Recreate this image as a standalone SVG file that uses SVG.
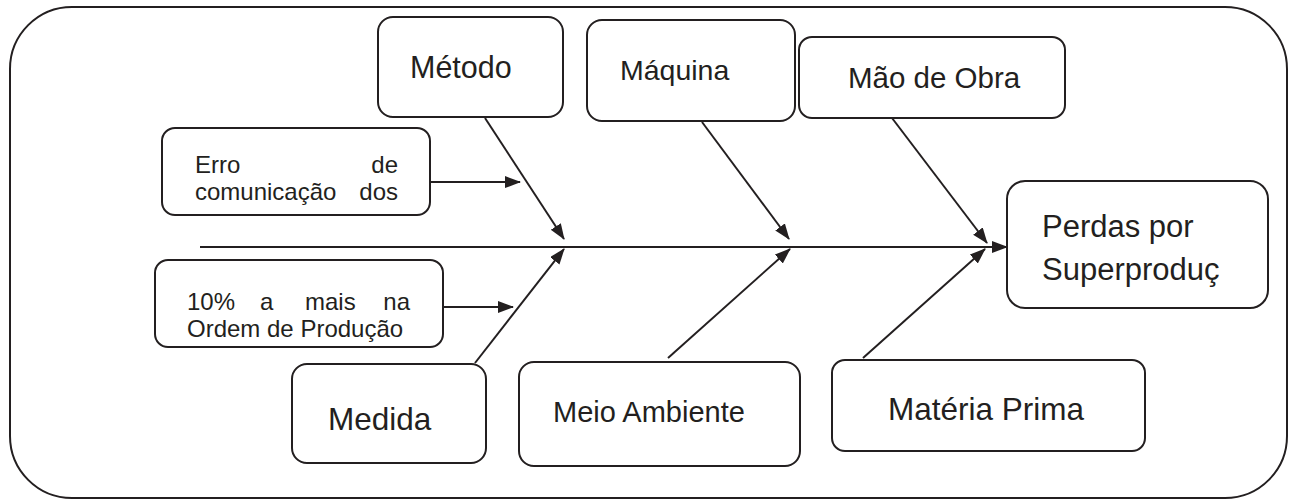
<svg xmlns="http://www.w3.org/2000/svg" width="1295" height="501" viewBox="0 0 1295 501">
<style>
.box{fill:#fff;stroke:#231f20;stroke-width:2}
.t{font-family:"Liberation Sans",Arial,sans-serif;fill:#231f20}
.c{stroke:#231f20;stroke-width:2;fill:none;marker-end:url(#ah)}
</style>
<defs>
<marker id="ah" markerUnits="userSpaceOnUse" markerWidth="17" markerHeight="13" refX="15" refY="6" orient="auto">
<path d="M0,0 L16,6 L0,12 z" fill="#231f20"/>
</marker>
</defs>
<rect width="1295" height="501" fill="#fff"/>
<rect id="frame" x="10" y="7" width="1277" height="491" rx="62" ry="62" fill="none" stroke="#231f20" stroke-width="2"/>
<g id="connectors">
<line class="c" x1="200" y1="247" x2="1007" y2="247"/>
<line class="c" x1="485" y1="118" x2="564" y2="239"/>
<line class="c" x1="702" y1="122" x2="789" y2="239"/>
<line class="c" x1="892" y1="118" x2="987" y2="243"/>
<line class="c" x1="475" y1="363" x2="564" y2="249"/>
<line class="c" x1="668" y1="358" x2="790" y2="249"/>
<line class="c" x1="863" y1="358" x2="985" y2="249"/>
<line class="c" x1="430" y1="182" x2="520" y2="182"/>
<line class="c" x1="443" y1="307" x2="513" y2="307"/>
</g>
<g id="metodo"><rect class="box" x="378" y="17" width="185" height="100" rx="15"/><text class="t" x="410" y="78" font-size="30.5">Método</text></g>
<g id="maquina"><rect class="box" x="587" y="20" width="208" height="101" rx="15"/><text class="t" x="620" y="80" font-size="28.5">Máquina</text></g>
<g id="maodeobra"><rect class="box" x="799" y="37" width="266" height="81" rx="13"/><text class="t" x="848" y="88" font-size="29.5">Mão de Obra</text></g>
<g id="perdas"><rect class="box" x="1007" y="181" width="261" height="127" rx="18"/><text class="t" x="1042" y="237" font-size="31">Perdas por</text><text class="t" x="1042" y="280" font-size="31">Superproduç</text></g>
<g id="erro"><rect class="box" x="162" y="128" width="268" height="87" rx="13"/>
<text class="t" font-size="24"><tspan x="195" y="173">Erro</tspan><tspan x="398" y="173" text-anchor="end">de</tspan></text>
<text class="t" font-size="24"><tspan x="195" y="200">comunicação</tspan><tspan x="398" y="200" text-anchor="end">dos</tspan></text></g>
<g id="dez"><rect class="box" x="155" y="260" width="288" height="87" rx="13"/>
<text class="t" font-size="24" y="310"><tspan x="187">10%</tspan><tspan x="260">a</tspan><tspan x="305">mais</tspan><tspan x="410" text-anchor="end">na</tspan></text>
<text class="t" font-size="24" x="187" y="337">Ordem de Produção</text></g>
<g id="medida"><rect class="box" x="292" y="364" width="194" height="99" rx="15"/><text class="t" x="328" y="430" font-size="31.5">Medida</text></g>
<g id="meio"><rect class="box" x="519" y="362" width="281" height="104" rx="15"/><text class="t" x="553" y="422" font-size="29">Meio Ambiente</text></g>
<g id="materia"><rect class="box" x="832" y="360" width="313" height="91" rx="13"/><text class="t" x="888" y="420" font-size="31.5">Matéria Prima</text></g>
</svg>
